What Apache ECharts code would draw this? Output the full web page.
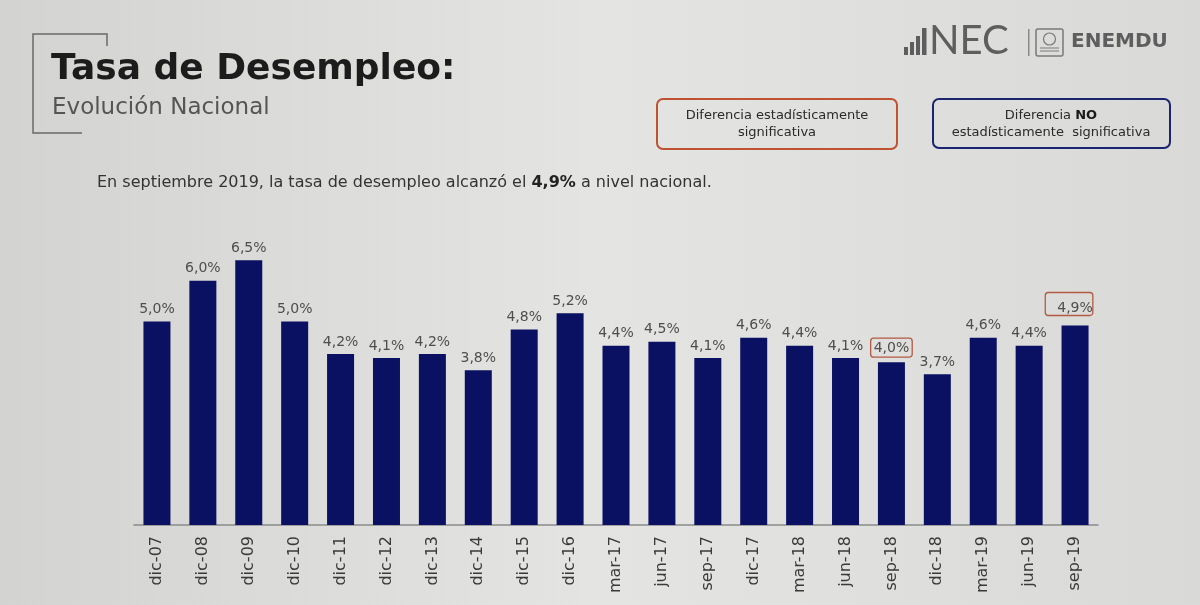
<!DOCTYPE html>
<html>
<head>
<meta charset="utf-8">
<script src="https://cdn.jsdelivr.net/npm/echarts@6/dist/echarts.min.js"></script>
<style>
html,body{margin:0;padding:0;background:#dfdfdd;}
#c{width:1200px;height:605px;}
</style>
</head>
<body>
<div id="c"></div>
<script>
const categories = ['dic-07','dic-08','dic-09','dic-10','dic-11','dic-12','dic-13','dic-14','dic-15','dic-16','mar-17','jun-17','sep-17','dic-17','mar-18','jun-18','sep-18','dic-18','mar-19','jun-19','sep-19'];
const values = [5.0,6.0,6.5,5.0,4.2,4.1,4.2,3.8,4.8,5.2,4.4,4.5,4.1,4.6,4.4,4.1,4.0,3.7,4.6,4.4,4.9];
const significant = ['sep-18','sep-19'];

const FONT = '"DejaVu Sans", sans-serif';
const LATO = 'Lato, sans-serif';
const chart = echarts.init(document.getElementById('c'));

const seriesData = values.map((v, i) => {
  const item = { value: v };
  if (significant.includes(categories[i])) {
    const last = i === categories.length - 1;
    item.label = {
      borderColor: '#b35a44', borderWidth: 1.3, borderRadius: 3,
      padding: last ? [9, 0, 0, 12] : [3, 3, 2, 3],
      distance: last ? 9 : 5,
      offset: last ? [-6, -1] : [0, 0]
    };
  }
  return item;
});

chart.setOption({
  backgroundColor: {
    type: 'linear', x: 0, y: 0, x2: 1, y2: 0,
    colorStops: [
      { offset: 0, color: '#d3d3d1' },
      { offset: 0.5, color: '#e4e4e2' },
      { offset: 1, color: '#d9d9d7' }
    ]
  },
  textStyle: { fontFamily: FONT },
  grid: { left: 134, right: 102, top: 240, bottom: 80 },
  xAxis: {
    type: 'category',
    data: categories,
    axisLine: { lineStyle: { color: '#8a8a8a', width: 1.5 } },
    axisTick: { show: false },
    axisLabel: { rotate: 90, color: '#3a3a3a', fontSize: 16, margin: 11, fontFamily: FONT }
  },
  yAxis: { type: 'value', min: 0, max: 7, show: false, splitLine: { show: false } },
  series: [{
    type: 'bar',
    data: seriesData,
    barWidth: 27,
    itemStyle: { color: '#0a1062' },
    label: {
      show: true, position: 'top', color: '#4e4e4e', fontSize: 14, fontFamily: FONT,
      formatter: p => p.value.toFixed(1).replace('.', ',') + '%'
    }
  }],
  graphic: [
    // bracket around title
    { type: 'polyline', shape: { points: [[107, 46], [107, 34], [33, 34], [33, 133], [82, 133]] },
      style: { stroke: '#6a6a6a', lineWidth: 1.5, fill: null } },
    { type: 'text', left: 51, top: 52,
      style: { text: 'Tasa de Desempleo:', font: 'bold 36px ' + FONT, fill: '#1c1c1c' } },
    { type: 'text', left: 52, top: 97,
      style: { text: 'Evolución Nacional', font: '23px ' + FONT, fill: '#555555' } },
    // logo
    { type: 'group', left: 904, top: 21, children: [
      { type: 'rect', shape: { x: 0, y: 19, width: 4, height: 8 }, style: { fill: '#5e5e5e' } },
      { type: 'rect', shape: { x: 6, y: 14, width: 4, height: 13 }, style: { fill: '#5e5e5e' } },
      { type: 'rect', shape: { x: 12, y: 8, width: 4, height: 19 }, style: { fill: '#5e5e5e' } },
      { type: 'rect', shape: { x: 18, y: 0, width: 4.5, height: 27 }, style: { fill: '#5e5e5e' } },
      { type: 'text', x: 25, y: -7, style: { text: 'NEC', font: '40px ' + LATO, fill: '#5e5e5e' } },
      { type: 'rect', shape: { x: 124, y: 1, width: 1.5, height: 27 }, style: { fill: '#8a8a8a' } },
      { type: 'rect', shape: { x: 132, y: 1, width: 27, height: 27, r: 2 }, style: { fill: 'none', stroke: '#7a7a7a', lineWidth: 1.5 } },
      { type: 'circle', shape: { cx: 145.5, cy: 11, r: 6 }, style: { fill: 'none', stroke: '#7a7a7a', lineWidth: 1.2 } },
      { type: 'line', shape: { x1: 136, y1: 20, x2: 155, y2: 20 }, style: { stroke: '#7a7a7a', lineWidth: 1 } },
      { type: 'line', shape: { x1: 136, y1: 23, x2: 155, y2: 23 }, style: { stroke: '#7a7a7a', lineWidth: 1 } },
      { type: 'text', x: 167, y: 4, style: { text: 'ENEMDU', font: 'bold 20px ' + FONT, fill: '#5e5e5e' } }
    ]},
    // legend boxes
    { type: 'rect', shape: { x: 657, y: 99, width: 240, height: 50, r: 6 },
      style: { fill: 'none', stroke: '#bf5230', lineWidth: 2 } },
    { type: 'text', x: 777, y: 124,
      style: { text: 'Diferencia estadísticamente\nsignificativa', font: '13px ' + FONT, fill: '#2a2a2a',
        align: 'center', verticalAlign: 'middle', lineHeight: 17 } },
    { type: 'rect', shape: { x: 933, y: 99, width: 237, height: 49, r: 6 },
      style: { fill: 'none', stroke: '#1c2470', lineWidth: 2 } },
    { type: 'text', x: 1051, y: 124,
      style: {
        text: '{n|Diferencia }{b|NO}\n{n|estadísticamente  significativa}',
        align: 'center', verticalAlign: 'middle',
        rich: {
          n: { font: '13px ' + FONT, fill: '#2a2a2a', lineHeight: 17 },
          b: { font: 'bold 13px ' + FONT, fill: '#1a1a1a', lineHeight: 17 }
        }
      } },
    // sentence
    { type: 'text', left: 97, top: 175,
      style: {
        text: '{n|En septiembre 2019, la tasa de desempleo alcanzó el }{b|4,9%}{n| a nivel nacional.}',
        rich: {
          n: { font: '16px ' + FONT, fill: '#333' },
          b: { font: 'bold 16px ' + FONT, fill: '#222' }
        }
      } }
  ]
});
</script>
</body>
</html>
